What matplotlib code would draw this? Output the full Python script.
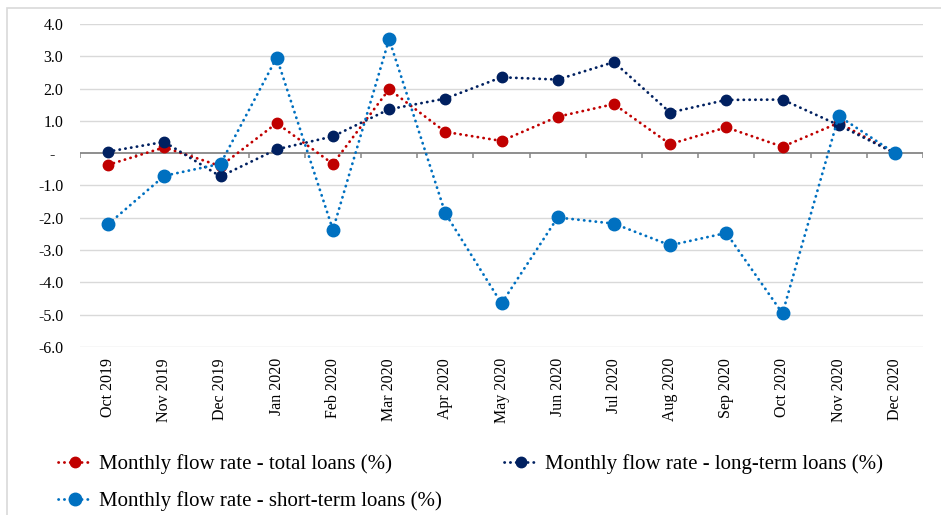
import numpy as np
import matplotlib.pyplot as plt
from matplotlib.patches import Rectangle

plt.rcParams['font.family'] = ['Liberation Serif', 'DejaVu Serif']

months = ['Oct 2019', 'Nov 2019', 'Dec 2019', 'Jan 2020', 'Feb 2020', 'Mar 2020',
          'Apr 2020', 'May 2020', 'Jun 2020', 'Jul 2020', 'Aug 2020', 'Sep 2020',
          'Oct 2020', 'Nov 2020', 'Dec 2020']

total_loans = [-0.36, 0.18, -0.40, 0.93, -0.33, 1.98, 0.66, 0.38, 1.13, 1.52,
               0.28, 0.80, 0.20, 0.94, 0.0]
long_term = [0.05, 0.35, -0.72, 0.12, 0.52, 1.36, 1.69, 2.35, 2.28, 2.82,
             1.26, 1.65, 1.66, 0.87, 0.0]
short_term = [-2.20, -0.70, -0.33, 2.96, -2.37, 3.53, -1.86, -4.65, -1.99, -2.18,
              -2.85, -2.47, -4.96, 1.15, 0.0]

y_ticks = [4, 3, 2, 1, 0, -1, -2, -3, -4, -5, -6]

red = '#C00000'
navy = '#002060'
blue = '#0070C0'

fig = plt.figure(figsize=(9.41, 5.15), dpi=100)
ax = fig.add_axes([80 / 941, 1 - 347 / 515, 843 / 941, 323 / 515])

x = np.arange(len(months))
dots = (0, (0.1, 2.0))

series = [
    (total_loans, red, 7.5, 'Monthly flow rate - total loans (%)'),
    (long_term, navy, 7.5, 'Monthly flow rate - long-term loans (%)'),
    (short_term, blue, 9.0, 'Monthly flow rate - short-term loans (%)'),
]
handles = []
for vals, col, ms, name in series:
    h, = ax.plot(x, vals, color=col, lw=2.0, linestyle=dots, dash_capstyle='round',
                 marker='o', markersize=ms, markerfacecolor=col, markeredgecolor=col,
                 label=name, zorder=3)
    handles.append(h)

# gridlines and category axis through zero
ax.set_ylim(-6, 4)
ax.set_xlim(-0.5, len(months) - 0.5)
for t in y_ticks:
    if t != 0:
        ax.axhline(t, color='#d9d9d9', lw=1.0, zorder=1)
ax.axhline(0, color='#868686', lw=1.3, zorder=2)
ax.vlines(np.arange(-0.5, len(months)), -0.16, 0, color='#868686', lw=1.1, zorder=2)

ax.set_yticks(y_ticks)
ax.set_yticklabels(['-  ' if t == 0 else f'{t:.1f}' for t in y_ticks])
ax.set_xticks(x)
ax.set_xticklabels(months, rotation=90)
ax.tick_params(axis='y', length=0, pad=12, labelsize=11.5)
ax.tick_params(axis='x', length=0, pad=8, labelsize=11.5)
for s in ax.spines.values():
    s.set_visible(False)

# legend rows: total + long-term, then short-term
fig.legend([handles[0], handles[2], handles[1]],
           [handles[0].get_label(), handles[2].get_label(), handles[1].get_label()],
           ncol=2, loc='upper left', bbox_to_anchor=(58 / 941, 1 - 454 / 515),
           frameon=False, fontsize=15, handlelength=1.6, handletextpad=0.35,
           columnspacing=3.0, labelspacing=0.82, borderpad=0, borderaxespad=0)

# chart border
fig.patches.append(Rectangle((7 / 941, -0.1), 1.2, 1.1 - 8 / 515,
                             transform=fig.transFigure, fill=False,
                             edgecolor='#d9d9d9', lw=1.2))

fig.savefig('out.png', dpi=100)
